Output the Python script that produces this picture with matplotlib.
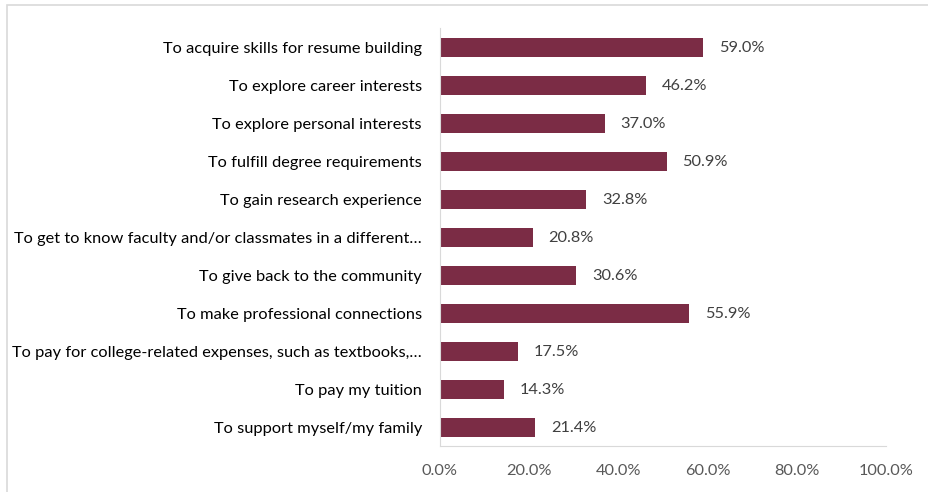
import matplotlib.pyplot as plt
from matplotlib.patches import Rectangle

categories = [
    "To acquire skills for resume building",
    "To explore career interests",
    "To explore personal interests",
    "To fulfill degree requirements",
    "To gain research experience",
    "To get to know faculty and/or classmates in a different\u2026",
    "To give back to the community",
    "To make professional connections",
    "To pay for college-related expenses, such as textbooks,\u2026",
    "To pay my tuition",
    "To support myself/my family",
]
values = [59.0, 46.2, 37.0, 50.9, 32.8, 20.8, 30.6, 55.9, 17.5, 14.3, 21.4]
xticks = [0, 20, 40, 60, 80, 100]

plt.rcParams['font.family'] = ['Lato', 'DejaVu Sans']

fig = plt.figure(figsize=(9.29, 4.92), dpi=100)
ax = fig.add_axes([440 / 929, 1 - 446 / 492, 446 / 929, 418 / 492])

pos = list(range(len(categories)))
ax.barh(pos, values, height=0.5, color='#7B2C45')
for p, v in zip(pos, values):
    ax.text(v + 3.5, p, "%.1f%%" % v, va='center_baseline', ha='left',
            fontsize=11.8, color='#404040')

ax.set_ylim(len(categories) - 0.5, -0.5)
ax.set_xlim(0, 100)
ax.set_yticks(pos)
ax.set_yticklabels(categories, fontsize=11.8, color='#000000')
for lbl in ax.get_yticklabels():
    lbl.set_va('center_baseline')
ax.set_xticks(xticks)
ax.set_xticklabels(["%.1f%%" % t for t in xticks], fontsize=11.8, color='#595959')
ax.tick_params(axis='both', length=0)
ax.tick_params(axis='y', pad=13)
ax.tick_params(axis='x', pad=13)

for s in ['top', 'right']:
    ax.spines[s].set_visible(False)
ax.spines['left'].set_color('#d9d9d9')
ax.spines['bottom'].set_color('#d9d9d9')

# outer chart border (left and top visible)
fig.patches.append(Rectangle((7 / 929, -0.1), 1.2, 1 - 5 / 492 + 0.1,
                             transform=fig.transFigure, fill=False,
                             edgecolor='#d9d9d9', linewidth=1.2))

fig.savefig('out.png', dpi=100)
